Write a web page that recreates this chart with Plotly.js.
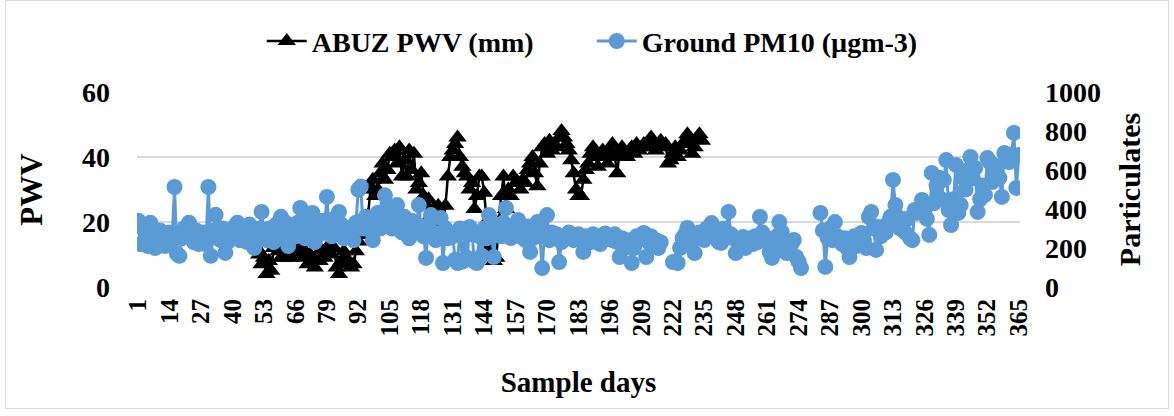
<!DOCTYPE html>
<html>
<head>
<meta charset="utf-8">
<script src="https://cdn.plot.ly/plotly-3.0.1.min.js"></script>
<style>
  html, body { margin: 0; padding: 0; background: #fff; }
  #wrap { position: relative; width: 1174px; height: 416px; }
  #chart { width: 1174px; height: 416px; }
  #frame { position: absolute; left: 5px; top: 0px; width: 1164px; height: 409px;
           border: 1px solid #d9d9d9; pointer-events: none; box-sizing: border-box; }
</style>
</head>
<body>
<div id="wrap"><div id="chart"></div><div id="frame"></div></div>
<script>
// Category axis: sample days 1..365
const days = Array.from({length: 365}, (_, i) => i + 1);
const tickDays = [1, 14, 27, 40, 53, 66, 79, 92, 105, 118, 131, 144, 157, 170, 183, 196, 209, 222, 235, 248, 261, 274, 287, 300, 313, 326, 339, 352, 365];
const tickLabels = tickDays.map(String);

// ABUZ PWV (mm), days 1..233 (null = not shown)
const pwv = [
  null, null, null, null, null, null, null, null, null, null, null, null, null,
  null, null, null, null, null, null, null, null, null, null, null, null, null,
  null, null, null, null, null, null, null, null, null, null, null, null, null,
  null, null, null, null, null, null, null, 14, 16, 13, 12, 10, 7, 9,
  4, 8, 5, 12, 14, 11, 9, 13, 9, 12, 9, 14, 10,
  11, 10, 12, 9, 7, 10, 8, 6, 10, 8, 11, 9, 12,
  13, 10, 12, 6, 4, 8, 11, 9, 7, 6, 7, 11, 14,
  16, 18, 20, 22, 30, 33, 28, 30, 35, 38, 33, 36, 41,
  40, 42, 38, 43, 34, 39, 34, 42, 36, 41, 30, 32, 35,
  28, 25, 27, 22, 24, 24, 25, 18, 20, 25, 34, 40, 42,
  44, 46, 40, 37, 35, 34, 30, 32, 24, 28, 34, 34, 29,
  20, 12, 10, 8, 9, 20, 28, 34, 24, 30, 28, 34, 32,
  32, 30, 33, 32, 36, 38, 40, 35, 31, 38, 43, 44, 41,
  45, 42, 44, 43, 46, 48, 46, 44, 42, 39, 35, 30, 28,
  28, 33, 36, 38, 41, 43, 40, 37, 41, 42, 40, 38, 42,
  44, 40, 35, 42, 43, 41, 40, 42, 43, 41, 44, 42, 43,
  44, 43, 45, 46, 44, 42, 44, 45, 43, 44, 38, 39, 41,
  43, 40, 42, 44, 45, 47, 44, 41, 43, 46, 47, 45
];

// Ground PM10 (µgm-3), days 1..365 (null = missing)
const pm10 = [
  340, 220, 300, 250, 210, 330, 240, 200, 260, 290, 230, 210, 250,
  280, 240, 513, 170, 160, 250, 300, 270, 330, 260, 230, 290, 220,
  250, 280, 220, 513, 160, 290, 370, 260, 240, 300, 175, 230, 270,
  300, 260, 330, 240, 270, 310, 230, 320, 250, 200, 280, 300, 385,
  280, 240, 300, 260, 230, 320, 270, 360, 290, 330, 210, 250, 300,
  260, 330, 405, 300, 250, 340, 280, 380, 230, 300, 270, 340, 310,
  462, 300, 260, 350, 280, 385, 320, 250, 300, 270, 290, 240, 330,
  500, 515, 300, 360, 320, 290, 240, 340, 380, 300, 350, 470, 420,
  350, 300, 380, 420, 330, 280, 360, 300, 250, 340, 290, 310, 420,
  300, 260, 149, 320, 369, 280, 240, 260, 354, 123, 300, 250, 280,
  260, 140, 123, 300, 130, 280, 150, 308, 270, 130, 123, 260, 160,
  300, 250, 369, 280, 154, 320, 290, 260, 330, 405, 300, 251, 280,
  300, 344, 260, 280, 240, 310, 180, 250, 290, 333, 260, 97, 280,
  369, 240, 280, 250, 270, 128, 230, 260, 250, 280, 270, 240, 260,
  270, 240, 180, 260, 250, 230, 270, 245, 260, 220, 240, 275, 250,
  260, 240, 270, 230, 154, 250, 230, 205, 240, 123, 200, 260, 240,
  250, 277, 154, 230, 260, 215, 240, 200, 230, null, null, null, null,
  128, 130, 123, 200, 251, 270, 303, 260, 230, 174, 250, 280, 260,
  241, 300, 280, 328, 260, 250, 230, 226, 300, 280, 385, 270, 250,
  174, 230, 241, 256, 200, 240, 250, 220, 260, 230, 359, 280, 250,
  250, 180, 149, 200, 260, 333, 282, 240, 174, 200, 220, 241, 154,
  130, 97, null, null, null, null, null, null, null, 380, 290, 103, 250,
  300, 240, 333, 260, 241, 220, 250, 200, 154, 230, 260, 210, 250,
  277, 240, 200, 359, 385, 300, 190, 308, 260, 300, 280, 330, 360,
  549, 420, 360, 300, 330, 280, 350, 251, 240, 395, 380, 400, 446,
  400, 350, 267, 585, 430, 520, 560, 450, 549, 651, 395, 318, 450,
  626, 380, 420, 560, 500, 600, 667, 559, 610, 385, 450, 520, 472,
  661, 641, 538, 580, 620, 560, 462, 687, 661, 640, 680, 790, 508, 677
];

const FONT = "Liberation Serif, 'Times New Roman', serif";
const BLUE = '#5B9BD5';

const traces = [
  {
    x: days.slice(0, pwv.length), y: pwv, name: 'ABUZ PWV (mm)',
    type: 'scatter', mode: 'lines+markers', yaxis: 'y',
    line: {color: '#000000', width: 2.5},
    marker: {symbol: 'triangle-up', size: 16, color: '#000000'}
  },
  {
    x: days, y: pm10, name: 'Ground PM10 (µgm-3)',
    type: 'scatter', mode: 'lines+markers', yaxis: 'y2',
    connectgaps: false,
    line: {color: BLUE, width: 3},
    marker: {symbol: 'circle', size: 16, color: BLUE}
  }
];

const layout = {
  width: 1174, height: 416,
  margin: {l: 137, r: 154, t: 92, b: 129, pad: 0},
  paper_bgcolor: '#ffffff', plot_bgcolor: '#ffffff',
  font: {family: FONT, color: '#000000', size: 24, weight: 'bold'},
  showlegend: true,
  legend: {
    orientation: 'h', x: 0.515, xanchor: 'center', y: 1.26, yanchor: 'middle',
    font: {family: FONT, size: 28, weight: 'bold', color: '#000'},
    bgcolor: 'rgba(0,0,0,0)', itemwidth: 40,
    entrywidth: 275, entrywidthmode: 'pixels'
  },
  xaxis: {
    range: [0.5, 365.5], tickmode: 'array', tickvals: tickDays, ticktext: tickLabels,
    tickangle: -90, tickfont: {family: FONT, size: 25, weight: 'bold'},
    showgrid: false, zeroline: false, showline: false, ticks: '',
    ticklabelstandoff: 6,
    title: {text: 'Sample days', font: {family: FONT, size: 29, weight: 'bold'}, standoff: 36}
  },
  yaxis: {
    range: [0, 60], tickmode: 'array', tickvals: [0, 20, 40, 60],
    tickfont: {family: FONT, size: 28, weight: 'bold'},
    showgrid: true, gridcolor: '#d9d9d9', gridwidth: 1.5,
    zeroline: false, showline: false, ticks: '', ticklabelstandoff: 26,
    title: {text: 'PWV', font: {family: FONT, size: 31, weight: 'bold'}, standoff: 30}
  },
  yaxis2: {
    range: [0, 1000], tickmode: 'array', tickvals: [0, 200, 400, 600, 800, 1000],
    overlaying: 'y', side: 'right',
    tickfont: {family: FONT, size: 28, weight: 'bold'},
    showgrid: false, zeroline: false, showline: false, ticks: '', ticklabelstandoff: 24,
    title: {text: 'Particulates', font: {family: FONT, size: 30, weight: 'bold'}, standoff: 18}
  }
};

Plotly.newPlot('chart', traces, layout, {displayModeBar: false, staticPlot: true});
</script>
</body>
</html>
